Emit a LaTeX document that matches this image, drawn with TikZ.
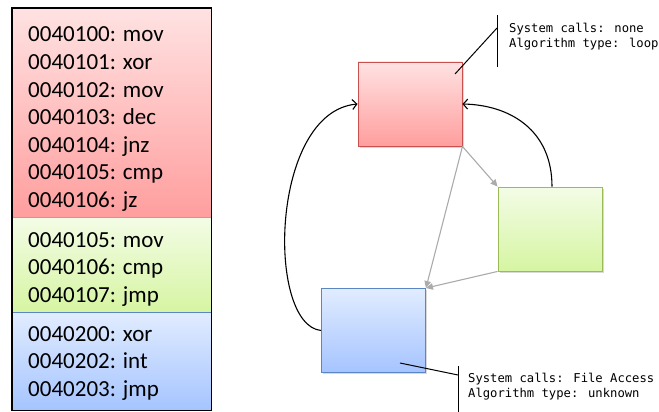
\documentclass[tikz,border=0pt]{standalone}
\usepackage{fontspec}
\newfontfamily\asmfont{Carlito}
\newfontfamily\notefont{DejaVu Sans Mono}
\usetikzlibrary{arrows.meta,shadows}

\definecolor{redTop}{HTML}{FFE2E2}
\definecolor{redBot}{HTML}{FF9E9E}
\definecolor{redLine}{HTML}{C9504D}
\definecolor{grnTop}{HTML}{F3FCE6}
\definecolor{grnBot}{HTML}{D6F5A2}
\definecolor{grnLine}{HTML}{9BBB59}
\definecolor{bluTop}{HTML}{E1ECFF}
\definecolor{bluBot}{HTML}{A5C4FF}
\definecolor{bluLine}{HTML}{5A86C4}
\definecolor{flowGray}{HTML}{ABABAB}

\tikzset{
  section/.style={rectangle, inner sep=0pt, anchor=north west, minimum width=199pt, line width=0.6pt},
  redfill/.style={top color=redTop, bottom color=redBot, draw=redLine},
  grnfill/.style={top color=grnTop, bottom color=grnBot, draw=grnLine},
  blufill/.style={top color=bluTop, bottom color=bluBot, draw=bluLine},
  block/.style={rectangle, inner sep=0pt, minimum width=104pt, minimum height=84pt,
    line width=0.9pt, drop shadow={shadow xshift=1.5pt, shadow yshift=-1.8pt, opacity=0.3}},
  asm/.style={font=\asmfont\fontsize{23}{27}\selectfont, anchor=base west, inner sep=0pt},
  note/.style={font=\notefont\fontsize{12.2}{14}\selectfont, anchor=base west, inner sep=0pt},
  flow/.style={draw=flowGray, line width=1.1pt, -{Triangle[length=7pt,width=6.5pt]}},
  back/.style={draw=black, line width=1.1pt, -{Straight Barb[length=4.5pt,width=10pt]}},
  lead/.style={draw=black, line width=1pt},
}

\begin{document}
\begin{tikzpicture}[x=1pt,y=-1pt]
\useasboundingbox (0,0) rectangle (659,412);

% ---- listing of the three basic blocks ----
\node[section, redfill, minimum height=209pt] (secR) at (12,8) {};
\node[section, grnfill, minimum height=95pt]  (secG) at (12,217) {};
\node[section, blufill, minimum height=98pt]  (secB) at (12,312) {};
\draw[line width=1.6pt] (secR.north west) rectangle (secB.south east);

\foreach \t [count=\i] in {0040100: mov, 0040101: xor, 0040102: mov, 0040103: dec, 0040104: jnz, 0040105: cmp, 0040106: jz}
  \node[asm] (rl\i) at (28,{42+27.5*(\i-1)}) {\t};
\foreach \t [count=\i] in {0040105: mov, 0040106: cmp, 0040107: jmp}
  \node[asm] (gl\i) at (28,{247+27.5*(\i-1)}) {\t};
\foreach \t [count=\i] in {0040200: xor, 0040202: int, 0040203: jmp}
  \node[asm] (bl\i) at (28,{341+27.5*(\i-1)}) {\t};

% ---- control-flow graph ----
\node[block, redfill] (r) at (410,104) {};
\node[block, grnfill] (g) at (550,229) {};
\node[block, blufill] (b) at (373.5,330.5) {};

\draw[flow] (r.south east) -- (g.north west);
\draw[flow] (r.south east) -- (b.north east);
\draw[flow] (g.south west) -- (b.north east);

\draw[back] (b.west) .. controls (266,325) and (270,112) .. (r.west);
\draw[back] ([xshift=2pt]g.north) .. controls (552,130) and (510,105) .. (r.east);

% ---- annotations ----
\coordinate (ra) at (455,74);
\coordinate (rk) at (497,28);
\coordinate (rt) at (497,15);
\coordinate (rb) at (497,67);
\draw[lead] (ra) -- (rk);
\draw[lead] (rt) -- (rb);
\node[note] (n1) at (509,33) {System calls: none};
\node[note] (n2) at (509,47.5) {Algorithm type: loop};

\coordinate (ba) at (400,363);
\coordinate (bk) at (458,375);
\coordinate (bt) at (458,366);
\coordinate (bb) at (458,412);
\draw[lead] (ba) -- (bk);
\draw[lead] (bt) -- (bb);
\node[note] (n3) at (468,382) {System calls: File Access};
\node[note] (n4) at (468,397) {Algorithm type: unknown};
\end{tikzpicture}
\end{document}
